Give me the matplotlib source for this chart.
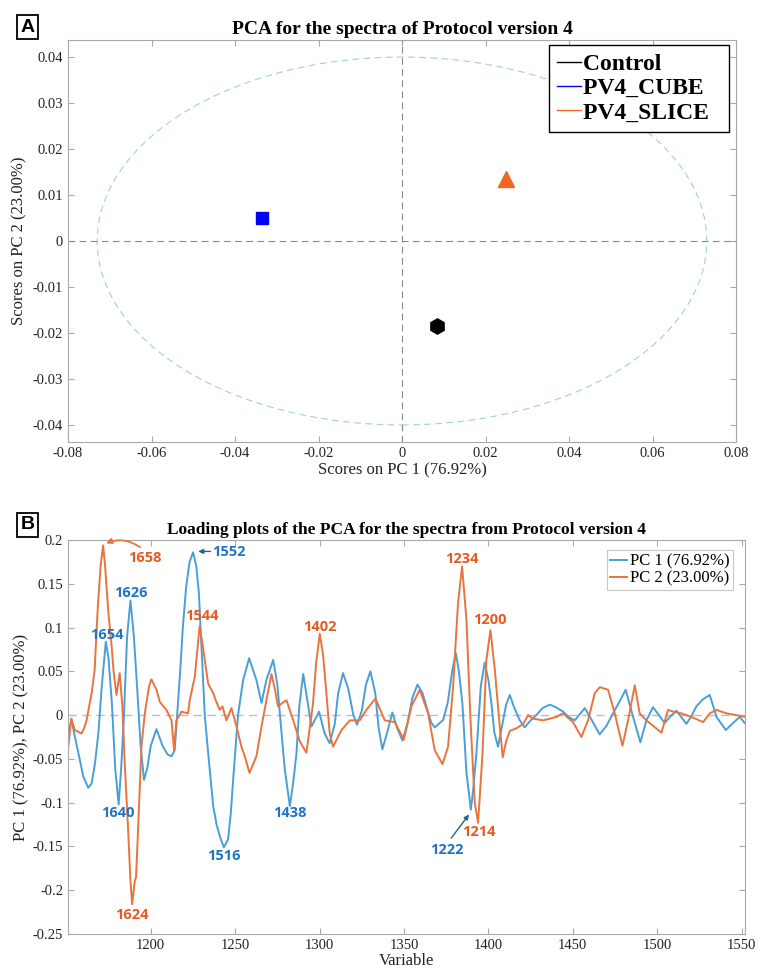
import matplotlib; matplotlib.use("Agg")
import matplotlib.pyplot as plt
import numpy as np
from matplotlib.patches import Ellipse

plt.rcParams["font.family"] = ["Liberation Serif", "DejaVu Serif"]
plt.rcParams["axes.unicode_minus"] = False

# ---- panel A: scores ----
groups = ["Control", "PV4_CUBE", "PV4_SLICE"]
score_pc1 = [0.0085, -0.0335, 0.025]
score_pc2 = [-0.0185, 0.005, 0.0135]
grp_colors = ["black", "#0000ff", "#f26522"]
grp_markers = ["h", "s", "^"]
ell_a, ell_b = 0.073, 0.040

# ---- panel B: loadings ----
pc1_x = [1150.8,1153,1155,1158,1160,1163,1165,1167,1169,1171,1173.4,1175,1177,1179,1181,1182.5,1184,1186,1188,1190,
         1192,1194,1196,1198,1200,1203.4,1207,1210,1212.3,1214.2,1216,1217.5,1219,1221,1223,1225.1,1227,1228.5,1230,1232,
         1234,1237,1239,1241,1243.3,1245.8,1247.5,1248.8,1251.7,1254.7,1258.3,1262.6,1265.6,1268.5,1272.5,1275,1277,1279.4,
         1282.4,1284.5,1286.3,1288,1290.3,1292.5,1295.2,1299.7,1303,1306,1309,1311,1313.9,1317,1320,1322.2,1325,1327.5,
         1330.1,1333,1335,1337.2,1340,1343.1,1346,1349.1,1352,1355,1358,1361,1363.3,1366,1368.2,1373.2,1376,1378.5,1380.7,
         1382.5,1384.6,1387,1389.6,1391,1392.9,1395.5,1397.8,1400,1401.8,1403.5,1405.7,1408.7,1410.5,1412.7,1415,1418.6,
         1421.5,1425,1428.4,1432,1436.3,1440,1444.2,1447.5,1451.1,1457.1,1461,1465.9,1470,1473.8,1477.5,1481.3,1485.7,1490,
         1493.6,1497.5,1501,1504.4,1508,1511.4,1514.5,1517.3,1520,1523.2,1527,1531.1,1535.1,1540.6,1544.9,1548.9,1551.8]
pc1_y = [-0.026,-0.005,-0.024,-0.051,-0.070,-0.083,-0.078,-0.055,-0.02,0.033,0.084,0.065,0.013,-0.062,-0.102,-0.06,-0.006,0.09,0.131,0.09,
         0.03,-0.035,-0.074,-0.06,-0.035,-0.016,-0.035,-0.045,-0.047,-0.04,0.01,0.052,0.1,0.147,0.175,0.186,0.17,0.14,0.08,0.0,
         -0.043,-0.104,-0.125,-0.139,-0.151,-0.142,-0.11,-0.074,0.0,0.040,0.065,0.040,0.014,0.040,0.063,0.035,-0.01,-0.062,
         -0.104,-0.075,-0.044,0.01,0.047,0.02,-0.013,0.004,-0.021,-0.032,-0.01,0.025,0.048,0.03,0.0,-0.011,0.005,0.035,
         0.050,0.025,-0.015,-0.039,-0.02,0.003,-0.015,-0.029,-0.01,0.02,0.035,0.025,0.010,-0.008,-0.014,-0.0055,0.015,0.05,0.071,
         0.05,0.0135,-0.066,-0.108,-0.085,-0.043,0.033,0.060,0.04,0.0135,-0.02,-0.036,-0.006,0.012,0.023,0.01,-0.006,
         -0.014,-0.006,0.0,0.008,0.012,0.009,0.004,-0.002,-0.006,0.008,-0.005,-0.022,-0.012,0.002,0.015,0.029,-0.002,-0.031,
         -0.006,0.009,0.0,-0.009,-0.001,0.005,-0.003,-0.010,-0.002,0.010,0.018,0.023,-0.002,-0.017,-0.009,-0.002,-0.009]

pc2_x = [1150.5,1153,1155,1157,1159,1160.5,1162,1163.5,1165,1166.8,1168,1168.8,1170.3,1171.8,1173,1173.8,1175,1176.7,1178,1179.7,
         1181.6,1183.2,1184.6,1186.6,1188,1189,1190.5,1191.3,1192.5,1194.5,1196.5,1199,1200.4,1203.4,1205.4,1209.3,1212.3,
         1213.8,1215.2,1218.2,1222.1,1223.1,1226.1,1229,1231.4,1234,1237,1238.9,1240.9,1242.5,1244.8,1247.8,1250.8,1253.7,
         1255.7,1258.5,1262.6,1265.6,1268.5,1271.5,1273.5,1275.4,1278,1280.4,1284.4,1288.3,1292.2,1294.5,1296.1,1298,1300.1,
         1302,1303.7,1306,1308,1313,1317.9,1323.8,1327.7,1333.1,1338.6,1344.5,1349.9,1354.4,1359.3,1364.3,1368.2,1372.8,
         1376.1,1379.1,1382,1384.4,1387,1389.4,1391.9,1393.9,1396.5,1398.8,1401.2,1403.8,1406.7,1408.5,1410.5,1412.7,1416.6,
         1420.6,1423.5,1426.4,1432.4,1440.3,1444.2,1450.1,1455.1,1459,1463,1466,1470.9,1474.8,1479.4,1482.7,1486.7,1489.6,
         1493.6,1498,1502.5,1506.4,1509.4,1514.3,1520.2,1527.2,1531.1,1535.1,1541,1546.9,1551.8]
pc2_y = [-0.047,-0.004,-0.017,-0.019,-0.021,-0.015,-0.006,0.01,0.025,0.052,0.1,0.128,0.17,0.194,0.17,0.147,0.115,0.082,0.05,0.023,
         0.048,0.010,-0.055,-0.131,-0.19,-0.216,-0.19,-0.185,-0.131,-0.036,0.002,0.033,0.041,0.029,0.015,0.006,-0.006,
         -0.040,-0.006,0.004,0.002,0.017,0.044,0.102,0.071,0.036,0.025,0.015,0.006,0.010,-0.006,0.008,-0.013,-0.036,
         -0.047,-0.066,-0.047,-0.013,0.017,0.047,0.03,0.010,0.014,0.017,-0.006,-0.03,-0.043,-0.01,0.013,0.06,0.093,
         0.07,0.033,-0.021,-0.036,-0.017,-0.006,-0.006,0.006,0.019,-0.006,-0.008,-0.028,0.010,0.029,0.002,-0.040,-0.056,
         -0.036,0.033,0.128,0.170,0.109,-0.006,-0.100,-0.123,-0.044,0.063,0.097,0.052,-0.013,-0.048,-0.03,-0.018,-0.015,
         -0.010,0.0,-0.004,-0.006,-0.002,0.002,-0.008,-0.025,-0.006,0.025,0.032,0.029,0.002,-0.035,-0.006,0.034,0.002,
         -0.006,-0.013,-0.020,0.006,0.004,0.002,-0.002,-0.008,0.002,0.006,0.002,0.0,-0.002]

# peak labels: (text, x, y, series)
peak_labels = [("1658",1196.4,0.180,2),("1552",1246.5,0.186,1),("1626",1188,0.140,1),("1654",1173.8,0.0915,1),
               ("1544",1230,0.113,2),("1640",1180.6,-0.112,1),("1516",1243.2,-0.161,1),("1438",1282.3,-0.112,1),
               ("1402",1300.1,0.101,2),("1234",1384,0.178,2),("1200",1400.8,0.109,2),("1214",1394.3,-0.133,2),
               ("1222",1375.2,-0.154,1),("1624",1189,-0.228,2)]

c_pc1, c_pc2 = "#4a9fd6", "#e8743f"
t_pc1, t_pc2 = "#1f74c4", "#e55a1f"
spine = "#a8a8a8"

def style(ax):
    for s in ax.spines.values():
        s.set_color(spine); s.set_linewidth(0.8)
    ax.tick_params(direction="in", top=True, right=True, color=spine, labelsize=10.5,
                   labelcolor="#222222", length=4)

def fmt(v):
    s = f"{v:.2f}".rstrip("0").rstrip(".")
    return "0" if s in ("-0", "0") else s

fig = plt.figure(figsize=(7.59, 9.72), dpi=100)

# ---- A ----
ax = fig.add_axes([0.0896, 0.5453, 0.8801, 0.4135])
ax.add_patch(Ellipse((0, 0), 2*ell_a, 2*ell_b, fill=False, ls=(0, (6, 4)), lw=0.8, ec="#9fd0dc"))
ax.axhline(0, color="#8a8a8a", ls=(0, (6, 4)), lw=0.8)
ax.axvline(0, color="#8a8a8a", ls=(0, (6, 4)), lw=0.8)
for g, x, y, c, m in zip(groups, score_pc1, score_pc2, grp_colors, grp_markers):
    ax.plot([x], [y], marker=m, color=c, ms=11 if m != "s" else 9, ls="none")
    ax.plot([], [], color=c, lw=1, label=g)
ax.set_xlim(-0.08, 0.08); ax.set_ylim(-0.0437, 0.0437)
xt = np.arange(-0.08, 0.081, 0.02); yt = np.arange(-0.04, 0.041, 0.01)
ax.set_xticks(xt); ax.set_xticklabels([fmt(v) for v in xt])
ax.set_yticks(yt); ax.set_yticklabels([fmt(v) for v in yt])
style(ax)
ax.set_xlabel("Scores on PC 1 (76.92%)", fontsize=12, color="#222222", labelpad=2)
ax.set_ylabel("Scores on PC 2 (23.00%)", fontsize=12, color="#222222", labelpad=4)
ax.set_title("PCA for the spectra of Protocol version 4", fontsize=14, fontweight="bold", pad=4)
leg = ax.legend(loc="upper right", prop={"weight": "bold", "size": 17}, handlelength=1.0, handletextpad=0.1,
                borderpad=0.35, borderaxespad=0, labelspacing=0.12, fancybox=False, framealpha=1,
                bbox_to_anchor=(0.9895, 0.9876))
leg.get_frame().set_edgecolor("black"); leg.get_frame().set_linewidth(1)
for h in leg.get_lines(): h.set_linewidth(1)
for t in leg.get_texts(): t.set_text(t.get_text() + "  ")

# ---- B ----
bx = fig.add_axes([0.0896, 0.0391, 0.892, 0.4053])
bx.axhline(0, color="#bdbdbd", ls=(0, (6, 4)), lw=1)
bx.plot(pc1_x, pc1_y, color=c_pc1, lw=1.4, label="PC 1 (76.92%)", solid_joinstyle="round")
bx.plot(pc2_x, pc2_y, color=c_pc2, lw=1.4, label="PC 2 (23.00%)", solid_joinstyle="round")
bx.set_xlim(1151, 1552); bx.set_ylim(-0.25, 0.2)
bt = np.arange(1200, 1551, 50); byt = np.arange(-0.25, 0.201, 0.05)
bx.set_xticks(bt); bx.set_yticks(byt); bx.set_yticklabels([fmt(v) for v in byt])
style(bx)
bx.set_xlabel("Variable", fontsize=12, color="#222222", labelpad=1)
bx.set_ylabel("PC 1 (76.92%), PC 2 (23.00%)", fontsize=12, color="#222222", labelpad=2)
bx.set_title("Loading plots of the PCA for the spectra from Protocol version 4", fontsize=12.5, fontweight="bold", pad=4)
lg = bx.legend(loc="upper right", fontsize=12, handlelength=1.0, handletextpad=0.2, borderpad=0.2,
               labelspacing=0.05, fancybox=False, framealpha=1, bbox_to_anchor=(0.995, 0.995))
lg.get_frame().set_edgecolor("#c8c8c8"); lg.get_frame().set_linewidth(0.8)

for txt, x, y, s in peak_labels:
    bx.text(x, y, txt, color=t_pc1 if s == 1 else t_pc2, fontsize=10.5, fontweight="bold",
            family=["Open Sans", "DejaVu Sans"], ha="center", va="center")
# arrows
bx.annotate("", xy=(1172, 0.195), xytext=(1195, 0.19),
            arrowprops=dict(arrowstyle="-|>", color=c_pc2, lw=1.3, mutation_scale=8, connectionstyle="arc3,rad=0.3"))
bx.annotate("", xy=(1226.5, 0.187), xytext=(1237, 0.187),
            arrowprops=dict(arrowstyle="-|>", color="#2a5f8f", lw=1.0, mutation_scale=7))
bx.annotate("", xy=(1389.5, -0.111), xytext=(1377, -0.143),
            arrowprops=dict(arrowstyle="-|>", color="#2a5f8f", lw=1.0, mutation_scale=7))

# panel letters
for lab, y in [("A", 0.972), ("B", 0.460)]:
    fig.text(0.036, y, lab, fontsize=14, fontweight="bold", family=["Liberation Sans", "DejaVu Sans"],
             ha="center", va="center", bbox=dict(boxstyle="square,pad=0.18", fc="white", ec="black", lw=1.3))

fig.savefig("out.png", dpi=100)
